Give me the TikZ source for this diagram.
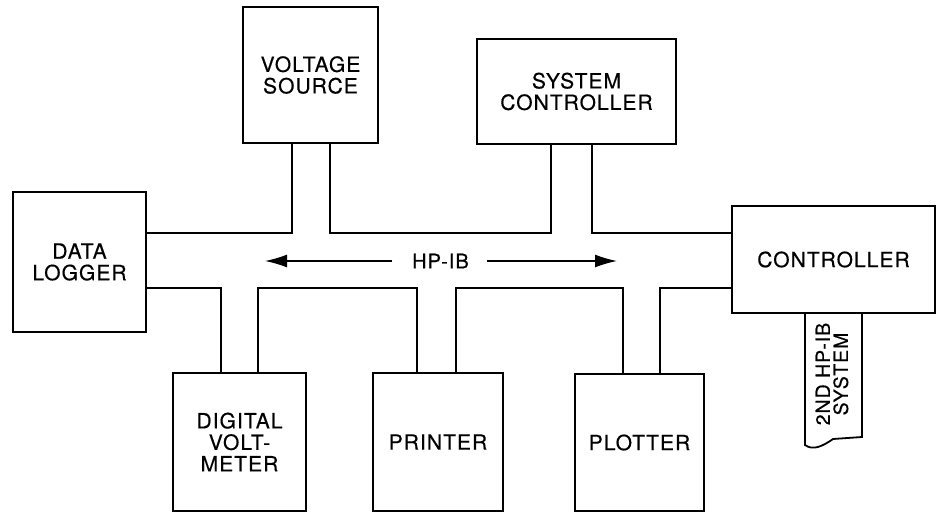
\documentclass[tikz,border=0pt]{standalone}
\usepackage{fontspec}
\setmainfont[LetterSpace=5,FakeBold=0.4]{TeX Gyre Heros}
\usetikzlibrary{arrows.meta}
\begin{document}
\begin{tikzpicture}[x=1pt,y=-1pt,
  line width=1.8pt,
  box/.style={draw, line width=1.8pt, align=center, inner sep=0pt,
    font=\fontsize{21}{21.5}\selectfont},
  bus/.style={line width=1.8pt, line join=miter},
  hparrow/.style={line width=1.4pt, -{Latex[length=22pt,width=13pt]}}]
\useasboundingbox (0,0) rectangle (940,512);
% boxes
\node[box, minimum width=135pt, minimum height=136pt] (vs) at (310.5,75) {VOLTAGE\\SOURCE};
\node[box, minimum width=199pt, minimum height=105pt] (sc) at (576.5,91.5) {SYSTEM\\CONTROLLER};
\node[box, minimum width=133pt, minimum height=140pt] (dl) at (79.5,262) {DATA\\LOGGER};
\node[box, minimum width=203pt, minimum height=107pt] (ctl) at (833.5,259.5) {CONTROLLER};
\node[box, minimum width=133pt, minimum height=138pt] (dvm) at (239.5,442) {DIGITAL\\VOLT-\\METER};
\node[box, minimum width=130pt, minimum height=138pt] (pr) at (438,442) {PRINTER};
\node[box, minimum width=129pt, minimum height=137pt] (pl) at (639.5,442.5) {PLOTTER};
% bus corner coordinates
\coordinate (t1) at (292,233);
\coordinate (t2) at (330,233);
\coordinate (t3) at (551,233);
\coordinate (t4) at (592,233);
\coordinate (b1) at (221,288);
\coordinate (b2) at (258,288);
\coordinate (b3) at (417,288);
\coordinate (b4) at (456,288);
\coordinate (b5) at (623,288);
\coordinate (b6) at (660,288);
% top bus
\draw[bus] (dl.east |- t1) -- (t1) -- (t1 |- vs.south);
\draw[bus] (vs.south -| t2) -- (t2) -- (t3) -- (t3 |- sc.south);
\draw[bus] (sc.south -| t4) -- (t4) -- (ctl.west |- t4);
% bottom bus
\draw[bus] (dl.east |- b1) -- (b1) -- (b1 |- dvm.north);
\draw[bus] (dvm.north -| b2) -- (b2) -- (b3) -- (b3 |- pr.north);
\draw[bus] (pr.north -| b4) -- (b4) -- (b5) -- (b5 |- pl.north);
\draw[bus] (pl.north -| b6) -- (b6) -- (ctl.west |- b6);
% HP-IB label and arrows
\node[font=\fontsize{20}{21}\selectfont, inner sep=0pt] (hp) at (440.5,261) {HP-IB};
\coordinate (al) at (265,261);
\coordinate (ar) at (617,261);
\draw[hparrow] ([xshift=-19pt]hp.west) -- (al);
\draw[hparrow] ([xshift=17pt]hp.east) -- (ar);
% second HP-IB system tab
\coordinate (tl) at (805,445);
\coordinate (tr) at (862,437);
\draw[bus] (ctl.south -| tl) -- (tl) .. controls (813,451) and (823,446) .. (833,439)
  -- (tr) -- (ctl.south -| tr);
\node[rotate=90, align=center, inner sep=0pt,
  font=\fontsize{19.5}{18}\selectfont] (tab) at (832,374) {2ND HP-IB\\SYSTEM};
\end{tikzpicture}
\end{document}
